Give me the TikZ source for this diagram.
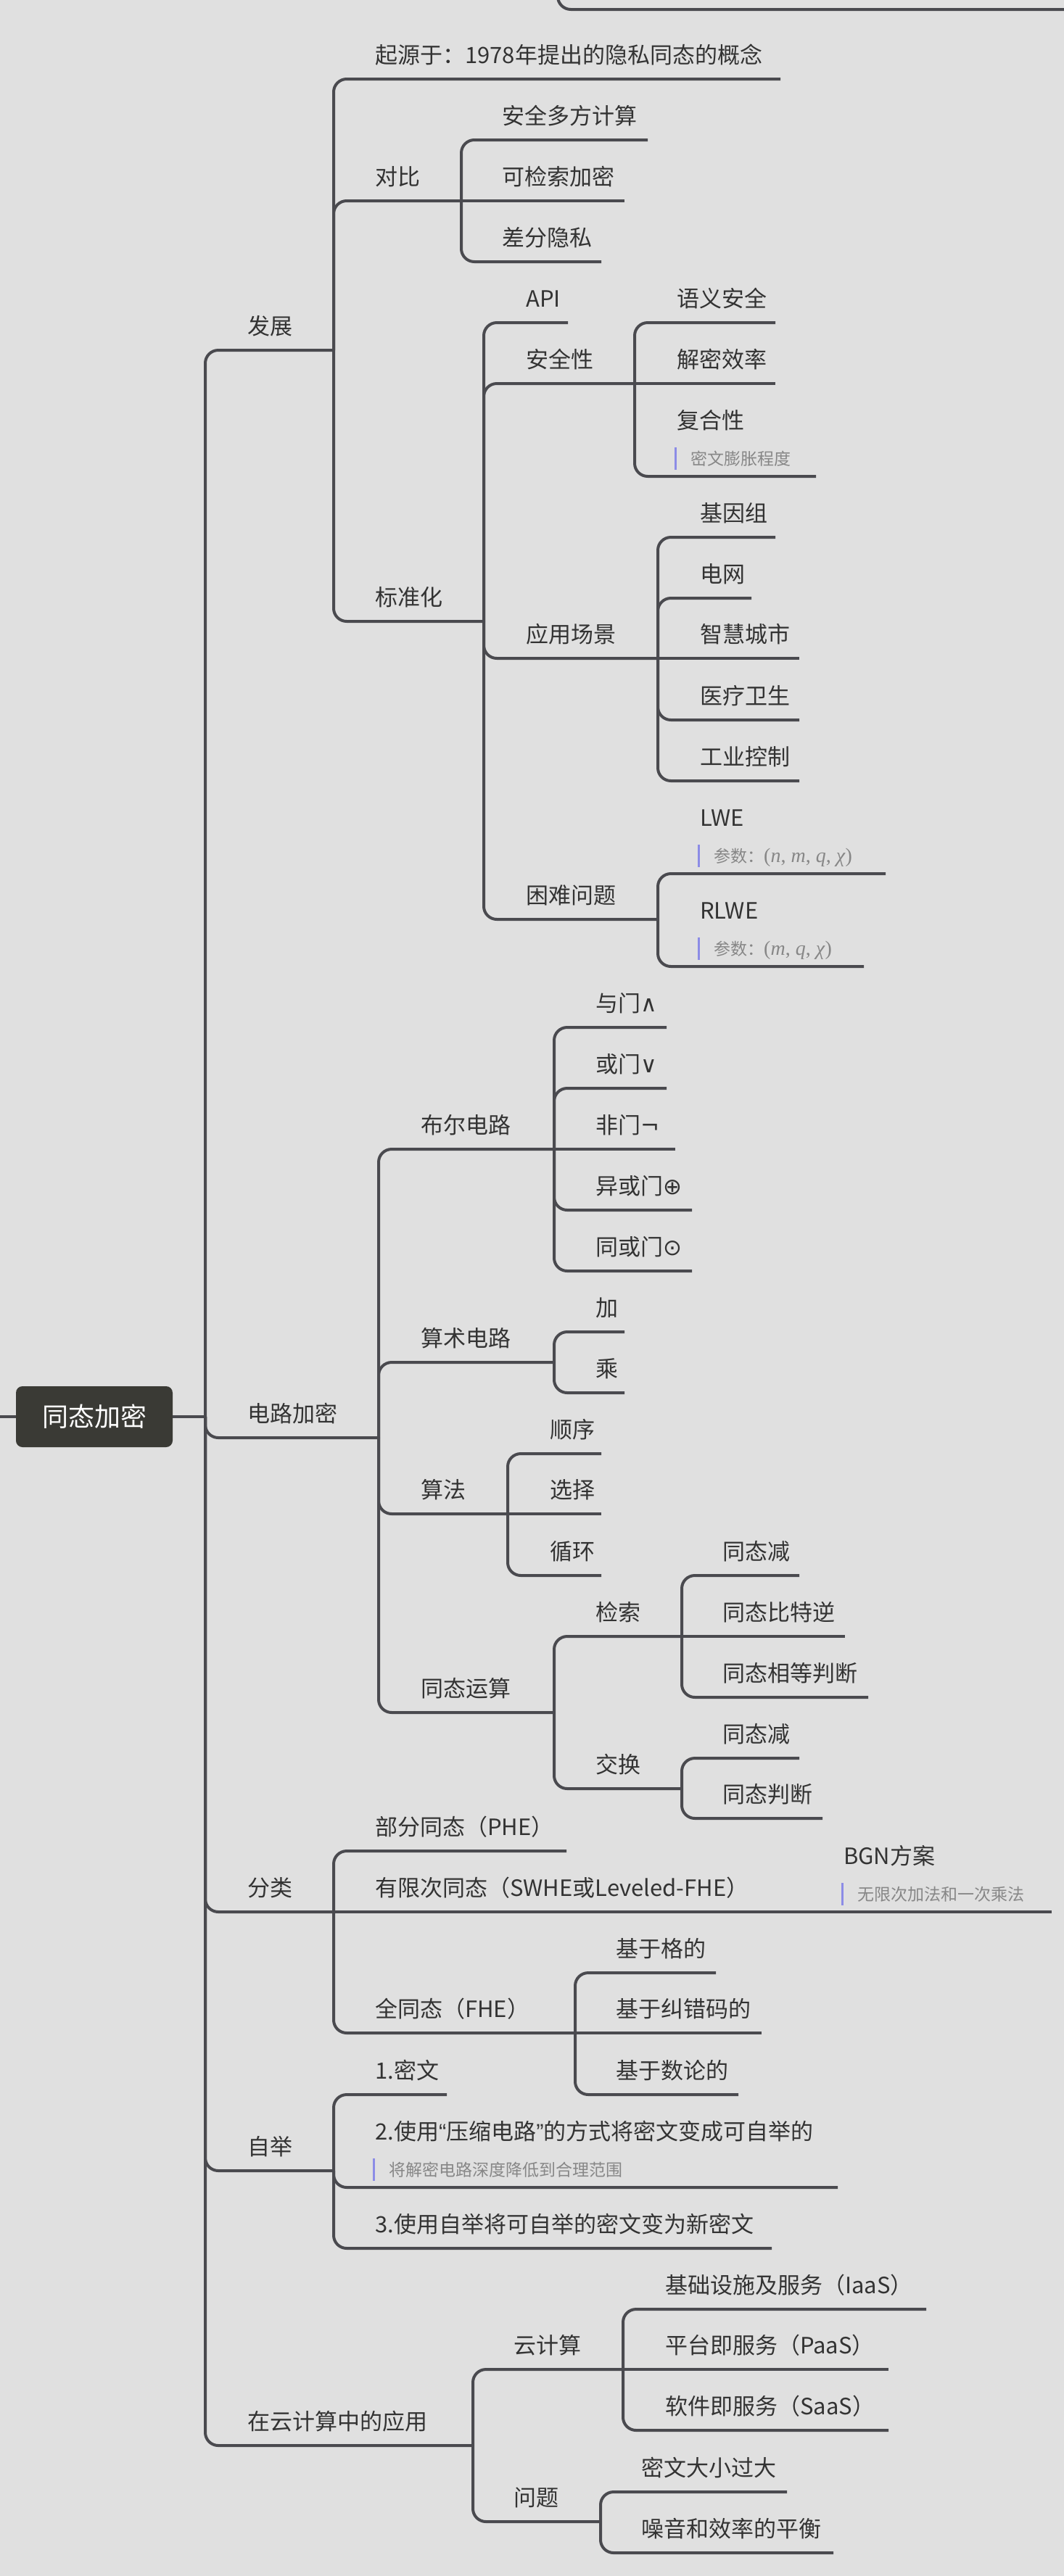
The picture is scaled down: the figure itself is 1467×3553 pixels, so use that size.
\documentclass[tikz,border=0pt]{standalone}
\usepackage[no-math]{fontspec}
\setmainfont{Noto Sans CJK SC}
\newfontfamily\comillas{Liberation Sans}
\newfontfamily\simbolo{DejaVu Sans}
\newfontfamily\formula{Liberation Serif}
\newcommand{\var}[1]{\textit{#1}}
\newcommand{\param}[1]{{\formula\fontsize{28}{30}\selectfont #1}}
\begin{document}
\begin{tikzpicture}[x=1pt, y=-1pt,
  rama/.style={line width=4pt, draw=linea, rounded corners=18pt},
  tema/.style={anchor=base west, inner sep=0pt, text=texto, font=\fontsize{31}{37}\selectfont},
  nota/.style={anchor=base west, inner sep=0pt, text=notatexto, font=\fontsize{23}{28}\selectfont},
  barra/.style={line width=3pt, draw=notabarra},
  raiz/.style={fill=raizfondo, rounded corners=9pt, text=white, minimum width=216pt,
    minimum height=84pt, inner sep=0pt, font=\fontsize{36}{42}\selectfont}]
  \definecolor{fondo}{HTML}{E0E0E0}
  \definecolor{linea}{HTML}{4A4A4F}
  \definecolor{texto}{HTML}{333333}
  \definecolor{notatexto}{HTML}{878787}
  \definecolor{notabarra}{HTML}{8C8CE6}
  \definecolor{raizfondo}{HTML}{3A3A35}
  \useasboundingbox (0,0) rectangle (1467,3553);
  \fill[fondo] (0,0) rectangle (1467,3553);

  % resto de otro mapa (arriba)
  \coordinate (arriba) at (769,-10);
  \coordinate (arribaE) at (1480,13);
  \draw[rama] (arriba) |- (arribaE);

  % raiz
  \node[raiz] (raiz) at (130,1954) {同态加密};
  \coordinate (izq) at (0,1954);
  \coordinate (raizE) at (283,1954);
  \draw[rama] (izq) -- (raiz.west);
  \draw[rama] (raiz.east) -- (raizE);

  % nivel 1
  \node[tema] (fz) at (341,461) {发展};
  \coordinate (fzE) at (460,483);
  \draw[rama] (raizE) |- (fzE);
  \node[tema] (dl) at (341,1961) {电路加密};
  \coordinate (dlE) at (522,1983);
  \draw[rama] (raizE) |- (dlE);
  \node[tema] (fl) at (341,2615) {分类};
  \coordinate (flE) at (460,2637);
  \draw[rama] (raizE) |- (flE);
  \node[tema] (zj) at (341,2972) {自举};
  \coordinate (zjE) at (460,2994);
  \draw[rama] (raizE) |- (zjE);
  \node[tema] (yy) at (341,3351) {在云计算中的应用};
  \coordinate (yyE) at (652,3373);
  \draw[rama] (raizE) |- (yyE);

  % 发展
  \node[tema] (ly) at (517,87) {起源于：1978年提出的隐私同态的概念};
  \coordinate (lyE) at (1076,109);
  \draw[rama] (fzE) |- (lyE);
  \node[tema] (db) at (517,255) {对比};
  \coordinate (dbE) at (636,277);
  \draw[rama] (fzE) |- (dbE);
  \node[tema] (bz) at (517,835) {标准化};
  \coordinate (bzE) at (667,857);
  \draw[rama] (fzE) |- (bzE);

  % 对比
  \node[tema] (aq) at (692,171) {安全多方计算};
  \coordinate (aqE) at (893,193);
  \draw[rama] (dbE) |- (aqE);
  \node[tema] (kj) at (692,255) {可检索加密};
  \coordinate (kjE) at (861,277);
  \draw[rama] (dbE) -- (kjE);
  \node[tema] (cf) at (692,339) {差分隐私};
  \coordinate (cfE) at (829,361);
  \draw[rama] (dbE) |- (cfE);

  % 标准化
  \node[tema] (api) at (725,423) {API};
  \coordinate (apiE) at (783,445);
  \draw[rama] (bzE) |- (apiE);
  \node[tema] (aqx) at (725,507) {安全性};
  \coordinate (aqxE) at (875,529);
  \draw[rama] (bzE) |- (aqxE);
  \node[tema] (cj) at (725,886) {应用场景};
  \coordinate (cjE) at (907,908);
  \draw[rama] (bzE) |- (cjE);
  \node[tema] (kn) at (725,1246) {困难问题};
  \coordinate (knE) at (907,1268);
  \draw[rama] (bzE) |- (knE);

  % 安全性
  \node[tema] (yq) at (933,423) {语义安全};
  \coordinate (yqE) at (1069,445);
  \draw[rama] (aqxE) |- (yqE);
  \node[tema] (jm) at (933,507) {解密效率};
  \coordinate (jmE) at (1069,529);
  \draw[rama] (aqxE) -- (jmE);
  \node[tema] (fh) at (933,591) {复合性};
  \draw[barra] (931,617) -- (931,648);
  \node[nota] (fhn) at (952,641) {密文膨胀程度};
  \coordinate (fhE) at (1125,657);
  \draw[rama] (aqxE) |- (fhE);

  % 应用场景
  \node[tema] (jy) at (965,719) {基因组};
  \coordinate (jyE) at (1069,741);
  \draw[rama] (cjE) |- (jyE);
  \node[tema] (dw) at (965,803) {电网};
  \coordinate (dwE) at (1036,825);
  \draw[rama] (cjE) |- (dwE);
  \node[tema] (zh) at (965,886) {智慧城市};
  \coordinate (zhE) at (1102,908);
  \draw[rama] (cjE) -- (zhE);
  \node[tema] (yl) at (965,971) {医疗卫生};
  \coordinate (ylE) at (1102,993);
  \draw[rama] (cjE) |- (ylE);
  \node[tema] (gy) at (965,1055) {工业控制};
  \coordinate (gyE) at (1102,1077);
  \draw[rama] (cjE) |- (gyE);

  % 困难问题
  \node[tema] (lwe) at (965,1139) {LWE};
  \draw[barra] (963,1165) -- (963,1196);
  \node[nota] (lwen) at (984,1189) {参数：\param{(\var{n}, \var{m}, \var{q}, \var{χ})}};
  \coordinate (lweE) at (1221,1205);
  \draw[rama] (knE) |- (lweE);
  \node[tema] (rlwe) at (965,1267) {RLWE};
  \draw[barra] (963,1293) -- (963,1324);
  \node[nota] (rlwen) at (984,1317) {参数：\param{(\var{m}, \var{q}, \var{χ})}};
  \coordinate (rlweE) at (1191,1333);
  \draw[rama] (knE) |- (rlweE);

  % 电路加密
  \node[tema] (be) at (580,1563) {布尔电路};
  \coordinate (beE) at (764,1585);
  \draw[rama] (dlE) |- (beE);
  \node[tema] (ss) at (580,1857) {算术电路};
  \coordinate (ssE) at (764,1879);
  \draw[rama] (dlE) |- (ssE);
  \node[tema] (sf) at (580,2066) {算法};
  \coordinate (sfE) at (700,2088);
  \draw[rama] (dlE) |- (sfE);
  \node[tema] (ty) at (580,2340) {同态运算};
  \coordinate (tyE) at (764,2362);
  \draw[rama] (dlE) |- (tyE);

  % 布尔电路
  \node[tema] (ym) at (821,1395) {与门{\simbolo ∧}};
  \coordinate (ymE) at (919,1417);
  \draw[rama] (beE) |- (ymE);
  \node[tema] (hm) at (821,1479) {或门{\simbolo ∨}};
  \coordinate (hmE) at (919,1501);
  \draw[rama] (beE) |- (hmE);
  \node[tema] (fm) at (821,1563) {非门{\simbolo ¬}};
  \coordinate (fmE) at (931,1585);
  \draw[rama] (beE) -- (fmE);
  \node[tema] (xm) at (821,1647) {异或门{\simbolo ⊕}};
  \coordinate (xmE) at (954,1669);
  \draw[rama] (beE) |- (xmE);
  \node[tema] (tm) at (821,1731) {同或门{\simbolo ⊙}};
  \coordinate (tmE) at (954,1753);
  \draw[rama] (beE) |- (tmE);

  % 算术电路
  \node[tema] (jia) at (821,1815) {加};
  \coordinate (jiaE) at (861,1837);
  \draw[rama] (ssE) |- (jiaE);
  \node[tema] (cheng) at (821,1899) {乘};
  \coordinate (chengE) at (861,1921);
  \draw[rama] (ssE) |- (chengE);

  % 算法
  \node[tema] (sx) at (758,1983) {顺序};
  \coordinate (sxE) at (829,2005);
  \draw[rama] (sfE) |- (sxE);
  \node[tema] (xz) at (758,2066) {选择};
  \coordinate (xzE) at (829,2088);
  \draw[rama] (sfE) -- (xzE);
  \node[tema] (xh) at (758,2151) {循环};
  \coordinate (xhE) at (829,2173);
  \draw[rama] (sfE) |- (xhE);

  % 同态运算
  \node[tema] (js) at (821,2235) {检索};
  \coordinate (jsE) at (940,2257);
  \draw[rama] (tyE) |- (jsE);
  \node[tema] (jh) at (821,2445) {交换};
  \coordinate (jhE) at (940,2467);
  \draw[rama] (tyE) |- (jhE);
  \node[tema] (jsa) at (996,2151) {同态减};
  \coordinate (jsaE) at (1102,2173);
  \draw[rama] (jsE) |- (jsaE);
  \node[tema] (jsb) at (996,2235) {同态比特逆};
  \coordinate (jsbE) at (1165,2257);
  \draw[rama] (jsE) -- (jsbE);
  \node[tema] (jsc) at (996,2319) {同态相等判断};
  \coordinate (jscE) at (1197,2341);
  \draw[rama] (jsE) |- (jscE);
  \node[tema] (jha) at (996,2403) {同态减};
  \coordinate (jhaE) at (1102,2425);
  \draw[rama] (jhE) |- (jhaE);
  \node[tema] (jhb) at (996,2486) {同态判断};
  \coordinate (jhbE) at (1134,2508);
  \draw[rama] (jhE) |- (jhbE);

  % 分类
  \node[tema] (bf) at (517,2531) {部分同态（PHE）};
  \coordinate (bfE) at (781,2553);
  \draw[rama] (flE) |- (bfE);
  \node[tema] (yx) at (517,2615) {有限次同态（SWHE或Leveled-FHE）};
  \coordinate (yxE) at (1150,2637);
  \draw[rama] (flE) -- (yxE);
  \node[tema] (qt) at (517,2782) {全同态（FHE）};
  \coordinate (qtE) at (793,2804);
  \draw[rama] (flE) |- (qtE);
  \node[tema] (bgn) at (1163,2571) {BGN方案};
  \draw[barra] (1161,2597) -- (1161,2628);
  \node[nota] (bgnn) at (1182,2621) {无限次加法和一次乘法};
  \coordinate (bgnE) at (1450,2637);
  \draw[rama] (yxE) -- (bgnE);
  \node[tema] (jg) at (849,2699) {基于格的};
  \coordinate (jgE) at (987,2721);
  \draw[rama] (qtE) |- (jgE);
  \node[tema] (jc) at (849,2782) {基于纠错码的};
  \coordinate (jcE) at (1050,2804);
  \draw[rama] (qtE) -- (jcE);
  \node[tema] (jl) at (849,2867) {基于数论的};
  \coordinate (jlE) at (1018,2889);
  \draw[rama] (qtE) |- (jlE);

  % 自举
  \node[tema] (za) at (517,2867) {1.密文};
  \coordinate (zaE) at (616,2889);
  \draw[rama] (zjE) |- (zaE);
  \node[tema] (zb) at (517,2951) {2.使用{\comillas “}压缩电路{\comillas ”}的方式将密文变成可自举的};
  \draw[barra] (515,2977) -- (515,3008);
  \node[nota] (zbn) at (536,3001) {将解密电路深度降低到合理范围};
  \coordinate (zbE) at (1155,3017);
  \draw[rama] (zjE) |- (zbE);
  \node[tema] (zc) at (517,3079) {3.使用自举将可自举的密文变为新密文};
  \coordinate (zcE) at (1064,3101);
  \draw[rama] (zjE) |- (zcE);

  % 在云计算中的应用
  \node[tema] (yj) at (708,3246) {云计算};
  \coordinate (yjE) at (859,3268);
  \draw[rama] (yyE) |- (yjE);
  \node[tema] (wt) at (708,3456) {问题};
  \coordinate (wtE) at (828,3478);
  \draw[rama] (yyE) |- (wtE);
  \node[tema] (iaas) at (917,3163) {基础设施及服务（IaaS）};
  \coordinate (iaasE) at (1277,3185);
  \draw[rama] (yjE) |- (iaasE);
  \node[tema] (paas) at (917,3246) {平台即服务（PaaS）};
  \coordinate (paasE) at (1225,3268);
  \draw[rama] (yjE) -- (paasE);
  \node[tema] (saas) at (917,3330) {软件即服务（SaaS）};
  \coordinate (saasE) at (1225,3352);
  \draw[rama] (yjE) |- (saasE);
  \node[tema] (mw) at (884,3415) {密文大小过大};
  \coordinate (mwE) at (1085,3437);
  \draw[rama] (wtE) |- (mwE);
  \node[tema] (zy) at (884,3499) {噪音和效率的平衡};
  \coordinate (zyE) at (1149,3521);
  \draw[rama] (wtE) |- (zyE);
\end{tikzpicture}
\end{document}
